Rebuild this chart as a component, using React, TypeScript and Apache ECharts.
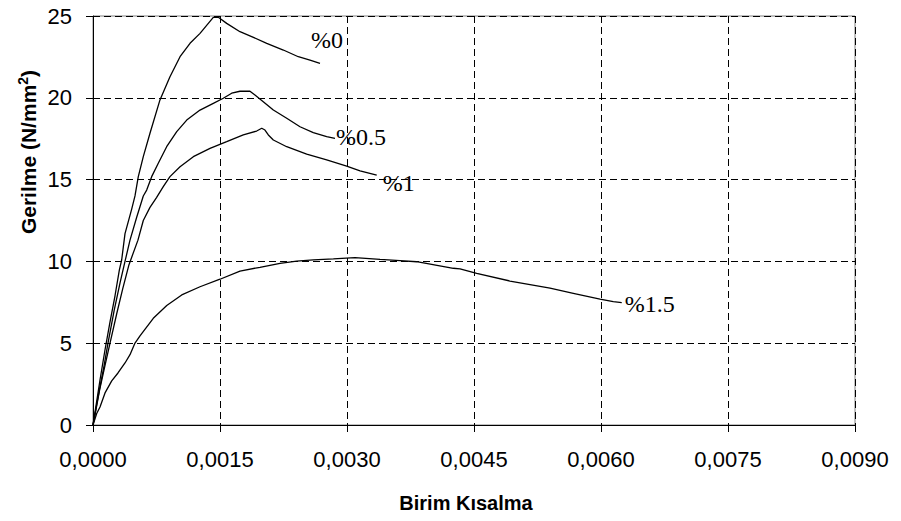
import React, { useEffect, useRef } from "react";
import * as echarts from "echarts";

// Birim Kısalma (strain) and Gerilme (stress, N/mm²) for each fibre ratio
const strain0 = [0, 0.0000827, 0.000142, 0.000201, 0.00026, 0.000311, 0.000339, 0.000378, 0.000457, 0.000496, 0.000535, 0.000594, 0.000673, 0.000791, 0.000909, 0.001028, 0.001146, 0.001264, 0.001362, 0.001421, 0.00148, 0.001579, 0.001736, 0.001874, 0.002052, 0.002248, 0.002425, 0.002563, 0.002681];
const stress0 = [0, 2.75, 4.6, 6.3, 7.9, 9.47, 10.1, 11.7, 13.2, 14.0, 15.18, 16.4, 17.83, 19.87, 21.29, 22.51, 23.33, 23.94, 24.55, 24.92, 24.92, 24.55, 24.04, 23.74, 23.33, 22.92, 22.51, 22.31, 22.11];

const strain05 = [0, 0.00007, 0.00013, 0.000177, 0.00025, 0.00032, 0.000378, 0.000437, 0.000516, 0.000594, 0.000634, 0.000693, 0.000771, 0.00087, 0.000989, 0.001107, 0.001264, 0.001421, 0.001539, 0.001638, 0.001736, 0.001854, 0.001913, 0.002011, 0.00213, 0.002288, 0.002445, 0.002602, 0.00276, 0.002858];
const stress05 = [0, 2.0, 3.6, 5.0, 7.0, 8.7, 10.0, 11.3, 12.7, 14.0, 14.36, 15.18, 16.0, 17.01, 17.93, 18.64, 19.25, 19.66, 19.97, 20.28, 20.4, 20.4, 20.17, 19.76, 19.25, 18.75, 18.23, 17.87, 17.62, 17.52];

const strain1 = [0, 0.00003, 0.00008, 0.00014, 0.000201, 0.00028, 0.00035, 0.000425, 0.000531, 0.000594, 0.000673, 0.00075, 0.00083, 0.000909, 0.001028, 0.001185, 0.001382, 0.001579, 0.001775, 0.001933, 0.001993, 0.002031, 0.002071, 0.00213, 0.002288, 0.002524, 0.00276, 0.002996, 0.003154, 0.003351];
const stress1 = [0, 0.8, 2.2, 3.6, 5.0, 6.8, 8.3, 9.8, 11.3, 12.5, 13.3, 13.9, 14.57, 15.18, 15.79, 16.4, 16.91, 17.32, 17.73, 17.97, 18.14, 18.03, 17.73, 17.42, 17.01, 16.56, 16.2, 15.83, 15.54, 15.28];

const strain15 = [0, 0.0000437, 0.0000827, 0.000142, 0.000221, 0.000295, 0.000378, 0.000437, 0.000496, 0.000555, 0.000712, 0.000871, 0.001048, 0.001264, 0.0015, 0.001736, 0.001972, 0.002209, 0.002406, 0.002602, 0.002839, 0.003094, 0.00339, 0.003626, 0.003823, 0.004256, 0.004335, 0.004532, 0.004925, 0.005398, 0.005673, 0.005988, 0.006145, 0.006245];
const stress15 = [0, 0.7, 1.1, 1.96, 2.7, 3.18, 3.79, 4.3, 5.01, 5.45, 6.52, 7.3, 7.95, 8.45, 8.91, 9.41, 9.64, 9.88, 10.02, 10.09, 10.15, 10.23, 10.12, 10.05, 9.98, 9.58, 9.54, 9.27, 8.8, 8.36, 8.05, 7.7, 7.54, 7.48];

const seriesNames = ["%0", "%0.5", "%1", "%1.5"];
const xTickInterval = 0.0015;
const xMax = 0.009;
const yTickInterval = 5;
const yMax = 25;
const xTitle = "Birim Kısalma";
const yTitleMain = "Gerilme (N/mm";
const yTitleSup = "2";

const zip = (xs: number[], ys: number[]) => xs.map((x, i) => [x, ys[i]]);

export default function App() {
  const ref = useRef<HTMLDivElement>(null);
  useEffect(() => {
    if (!ref.current) return;
    const chart = echarts.init(ref.current, undefined, { renderer: "svg" });
    const sans = "'Liberation Sans', Arial, sans-serif";
    const serif = "'Liberation Serif', 'Times New Roman', serif";
    const datasets = [
      zip(strain0, stress0),
      zip(strain05, stress05),
      zip(strain1, stress1),
      zip(strain15, stress15),
    ];
    const labelOffsets = [
      [-17, -23],
      [-7, -1],
      [-2, 8],
      [-5, 1],
    ];
    chart.setOption({
      animation: false,
      backgroundColor: "#ffffff",
      grid: {
        left: 93,
        top: 16,
        right: 46,
        bottom: 96,
        show: true,
        borderColor: "#808080",
        borderWidth: 1,
        backgroundColor: "transparent",
      },
      xAxis: {
        type: "value",
        min: 0,
        max: xMax,
        interval: xTickInterval,
        axisLine: { show: true, lineStyle: { color: "#000", width: 1 } },
        axisTick: { show: true, inside: false, length: 7, lineStyle: { color: "#000" } },
        axisLabel: {
          margin: 23,
          color: "#000",
          fontSize: 22,
          fontFamily: sans,
          formatter: (v: number) => v.toFixed(4).replace(".", ","),
        },
        splitLine: {
          show: true,
          lineStyle: { color: "#000", type: [7, 4], width: 1 },
        },
      },
      yAxis: {
        type: "value",
        min: 0,
        max: yMax,
        interval: yTickInterval,
        axisLine: { show: true, lineStyle: { color: "#000", width: 1 } },
        axisTick: { show: true, inside: false, length: 7, lineStyle: { color: "#000" } },
        axisLabel: {
          margin: 21,
          color: "#000",
          fontSize: 22,
          fontFamily: sans,
        },
        splitLine: {
          show: true,
          lineStyle: { color: "#000", type: [7, 4], width: 1 },
        },
      },
      series: datasets.map((d, i) => ({
        type: "line",
        name: seriesNames[i],
        data: d,
        showSymbol: false,
        symbol: "none",
        smooth: false,
        clip: false,
        lineStyle: { color: "#000", width: 1.3 },
        endLabel: {
          show: true,
          formatter: "{a}",
          color: "#000",
          fontSize: 24,
          fontFamily: serif,
          offset: labelOffsets[i],
        },
      })),
      graphic: [
        {
          type: "text",
          x: 466,
          y: 503,
          style: {
            text: xTitle,
            fontSize: 20,
            fontWeight: "bold",
            fontFamily: sans,
            fill: "#000",
            align: "center",
            verticalAlign: "middle",
          },
        },
        {
          type: "text",
          x: 28,
          y: 152,
          rotation: Math.PI / 2,
          style: {
            text: yTitleMain + "{sup|" + yTitleSup + "})",
            fontSize: 21,
            fontWeight: "bold",
            fontFamily: sans,
            fill: "#000",
            align: "center",
            verticalAlign: "middle",
            rich: {
              sup: {
                fontSize: 14,
                fontWeight: "bold",
                fontFamily: sans,
                fill: "#000",
                padding: [0, 0, 10, 0],
              },
            },
          },
        },
      ],
    });
    return () => chart.dispose();
  }, []);
  return (
    <div
      ref={ref}
      style={{ position: "fixed", left: 0, top: 0, width: 901, height: 521, background: "#fff" }}
    />
  );
}
